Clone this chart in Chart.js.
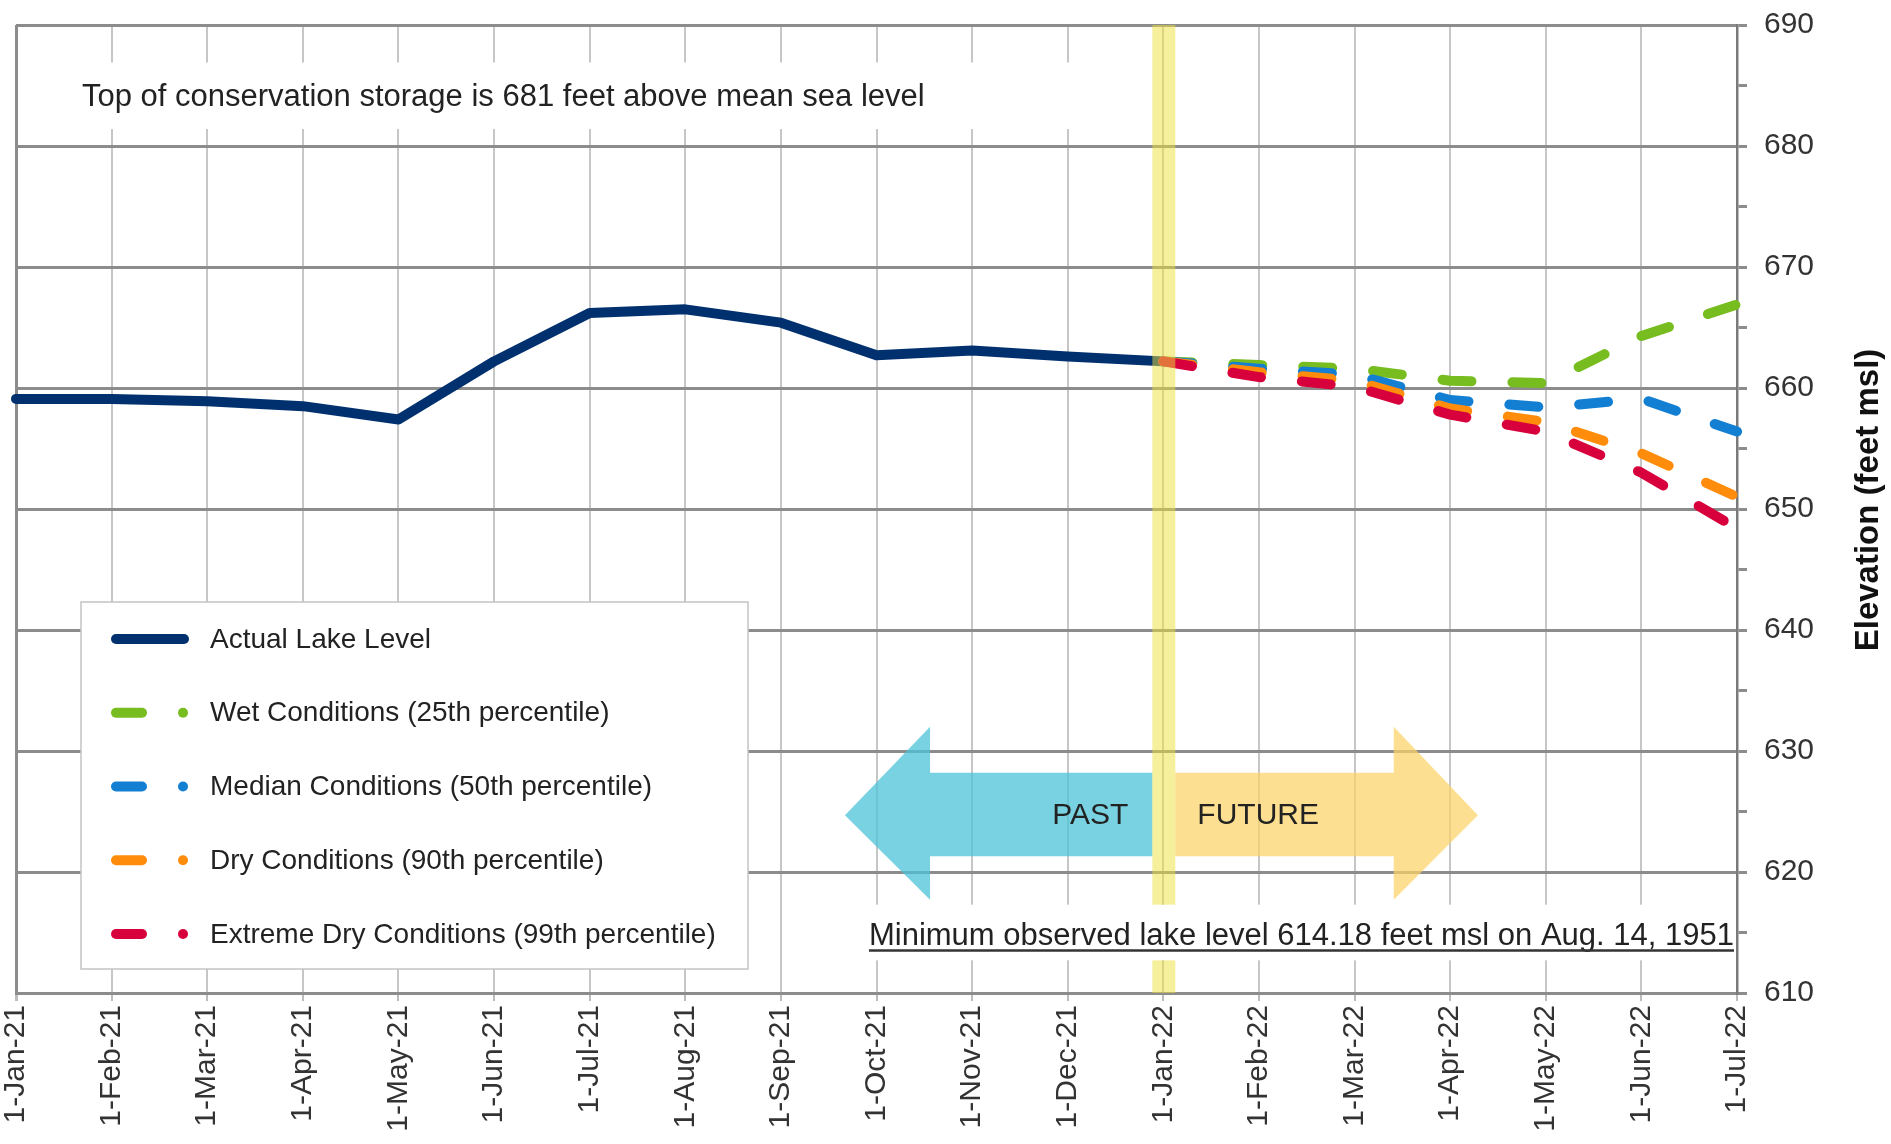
<!DOCTYPE html>
<html>
<head>
<meta charset="utf-8">
<script src="https://cdn.jsdelivr.net/npm/chart.js@4.4.1/dist/chart.umd.min.js"></script>
<style>
  html, body { margin: 0; padding: 0; background: #fff; overflow: hidden; }
  canvas { display: block; }
</style>
</head>
<body>
<canvas id="chartLago" width="1891" height="1144" style="width:1891px;height:1144px"></canvas>
<script>
"use strict";

// Meses del eje X (equiespaciados)
const months = [
  "1-Jan-21", "1-Feb-21", "1-Mar-21", "1-Apr-21", "1-May-21", "1-Jun-21",
  "1-Jul-21", "1-Aug-21", "1-Sep-21", "1-Oct-21", "1-Nov-21", "1-Dec-21",
  "1-Jan-22", "1-Feb-22", "1-Mar-22", "1-Apr-22", "1-May-22", "1-Jun-22", "1-Jul-22",
];

// Nivel observado (feet msl)
const actualLevel = [659.1, 659.1, 658.9, 658.5, 657.4, 662.2, 666.2, 666.5, 665.4,
  662.7, 663.1, 662.6, 662.2, null, null, null, null, null, null];

// Pronósticos desde 1-Jan-22
const wetLevel = [null, null, null, null, null, null, null, null, null, null, null, null,
  662.2, 661.9, 661.6, 660.6, 660.4, 664.3, 666.9];
const medianLevel = [null, null, null, null, null, null, null, null, null, null, null, null,
  662.2, 661.6, 661.1, 659.0, 658.4, 659.1, 656.4];
const dryLevel = [null, null, null, null, null, null, null, null, null, null, null, null,
  662.2, 661.3, 660.6, 658.3, 657.2, 654.6, 651.0];
const extremeLevel = [null, null, null, null, null, null, null, null, null, null, null, null,
  662.2, 660.9, 660.1, 657.8, 656.4, 653.0, 648.4];

const seriesNames = [
  "Actual Lake Level",
  "Wet Conditions (25th percentile)",
  "Median Conditions (50th percentile)",
  "Dry Conditions (90th percentile)",
  "Extreme Dry Conditions (99th percentile)",
];
const seriesColors = ["#00306e", "#77bd1f", "#137fd3", "#ff8c0a", "#d8003c"];

const elevationTicks = [610, 620, 630, 640, 650, 660, 670, 680, 690];

const FONT = "'Liberation Sans', Arial, sans-serif";
const TEXT = "#222";

const overlay = {
  id: "overlay",
  beforeDatasetsDraw(chart) {
    const { ctx, chartArea: a, scales: { x, y } } = chart;
    const bandL = x.getPixelForValue(12) - 11;
    const bandR = x.getPixelForValue(12) + 12;
    const yc = y.getPixelForValue(624.7);
    const sT = y.getPixelForValue(628.2), sB = y.getPixelForValue(621.3);
    const hT = y.getPixelForValue(632.0), hB = y.getPixelForValue(617.7);
    ctx.save();

    // flecha PAST
    const pTip = x.getPixelForValue(8.67), pBase = x.getPixelForValue(9.56);
    ctx.fillStyle = "rgba(75,195,215,0.75)";
    ctx.beginPath();
    ctx.moveTo(pTip, yc);
    ctx.lineTo(pBase, hT);
    ctx.lineTo(pBase, sT);
    ctx.lineTo(bandL, sT);
    ctx.lineTo(bandL, sB);
    ctx.lineTo(pBase, sB);
    ctx.lineTo(pBase, hB);
    ctx.closePath();
    ctx.fill();

    // flecha FUTURE
    const fTip = x.getPixelForValue(15.29), fBase = x.getPixelForValue(14.41);
    ctx.fillStyle = "rgba(252,210,102,0.72)";
    ctx.beginPath();
    ctx.moveTo(fTip, yc);
    ctx.lineTo(fBase, hT);
    ctx.lineTo(fBase, sT);
    ctx.lineTo(bandR, sT);
    ctx.lineTo(bandR, sB);
    ctx.lineTo(fBase, sB);
    ctx.lineTo(fBase, hB);
    ctx.closePath();
    ctx.fill();

    ctx.fillStyle = TEXT;
    ctx.font = "30px " + FONT;
    ctx.textBaseline = "middle";
    ctx.textAlign = "right";
    ctx.fillText("PAST", bandL - 24, yc + 1);
    ctx.textAlign = "left";
    ctx.fillText("FUTURE", bandR + 22, yc + 1);

    // cajas blancas de las notas
    ctx.fillStyle = "#fff";
    const t1 = y.getPixelForValue(686.9), t2 = y.getPixelForValue(681.4);
    ctx.fillRect(a.left + 2, t1, x.getPixelForValue(11.45) - a.left - 2, t2 - t1);
    const b1 = y.getPixelForValue(617.3), b2 = y.getPixelForValue(612.7);
    ctx.fillRect(x.getPixelForValue(8.9), b1, a.right - 2 - x.getPixelForValue(8.9), b2 - b1);
    ctx.restore();
  },
  afterDatasetsDraw(chart) {
    const { ctx, chartArea: a, scales: { x, y } } = chart;
    ctx.save();

    // banda amarilla en 1-Jan-22
    const bandL = x.getPixelForValue(12) - 11;
    const b1 = y.getPixelForValue(617.3), b2 = y.getPixelForValue(612.7);
    ctx.fillStyle = "rgba(238,225,60,0.5)";
    ctx.fillRect(bandL, a.top, 23, b1 - a.top);
    ctx.fillRect(bandL, b2, 23, a.bottom - b2);

    // notas
    ctx.fillStyle = TEXT;
    ctx.font = "31px " + FONT;
    ctx.textAlign = "left";
    ctx.textBaseline = "middle";
    ctx.fillText("Top of conservation storage is 681 feet above mean sea level", a.left + 66, y.getPixelForValue(684.0));

    ctx.textAlign = "right";
    ctx.textBaseline = "alphabetic";
    const minTxt = "Minimum observed lake level 614.18 feet msl on Aug. 14, 1951";
    const baseY = y.getPixelForValue(614.0);
    const right = a.right - 3;
    ctx.fillText(minTxt, right, baseY);
    const w = ctx.measureText(minTxt).width;
    ctx.strokeStyle = "#333";
    ctx.lineWidth = 2.5;
    ctx.beginPath();
    ctx.moveTo(right - w, baseY + 6);
    ctx.lineTo(right, baseY + 6);
    ctx.stroke();

    // leyenda
    const lx = a.left + 65, ly = a.top + 577, lw = 667, lh = 367;
    ctx.fillStyle = "#fff";
    ctx.fillRect(lx, ly, lw, lh);
    ctx.strokeStyle = "#c4c4c4";
    ctx.lineWidth = 1.5;
    ctx.strokeRect(lx, ly, lw, lh);
    ctx.lineCap = "round";
    ctx.font = "28px " + FONT;
    ctx.textAlign = "left";
    ctx.textBaseline = "middle";
    seriesNames.forEach((name, i) => {
      const ry = ly + 37 + i * 73.75;
      ctx.strokeStyle = seriesColors[i];
      ctx.fillStyle = seriesColors[i];
      ctx.lineWidth = 10;
      ctx.beginPath();
      if (i === 0) {
        ctx.moveTo(lx + 35, ry);
        ctx.lineTo(lx + 103, ry);
        ctx.stroke();
      } else {
        ctx.moveTo(lx + 35, ry);
        ctx.lineTo(lx + 61, ry);
        ctx.stroke();
        ctx.beginPath();
        ctx.arc(lx + 102, ry, 5, 0, Math.PI * 2);
        ctx.fill();
      }
      ctx.fillStyle = TEXT;
      ctx.fillText(name, lx + 129, ry + 1);
    });

    // título del eje Y (de abajo hacia arriba)
    ctx.save();
    ctx.translate(1869, 500);
    ctx.rotate(-Math.PI / 2);
    ctx.font = "bold 33px " + FONT;
    ctx.textAlign = "center";
    ctx.textBaseline = "middle";
    ctx.fillStyle = "#111";
    ctx.fillText("Elevation (feet msl)", 0, 0);
    ctx.restore();

    ctx.restore();
  },
};

function lineSet(label, data, color, dashed, order) {
  return {
    label,
    data,
    borderColor: color,
    backgroundColor: color,
    borderWidth: 10,
    borderDash: dashed ? [29, 41] : [],
    borderCapStyle: "round",
    borderJoinStyle: "round",
    pointRadius: 0,
    tension: 0,
    spanGaps: false,
    order,
  };
}

new Chart(document.getElementById("chartLago"), {
  type: "line",
  data: {
    labels: months,
    datasets: [
      lineSet(seriesNames[0], actualLevel, seriesColors[0], false, 5),
      lineSet(seriesNames[1], wetLevel, seriesColors[1], true, 4),
      lineSet(seriesNames[2], medianLevel, seriesColors[2], true, 3),
      lineSet(seriesNames[3], dryLevel, seriesColors[3], true, 2),
      lineSet(seriesNames[4], extremeLevel, seriesColors[4], true, 1),
    ],
  },
  options: {
    responsive: false,
    devicePixelRatio: 1,
    animation: false,
    layout: { padding: { left: 16, top: 25, right: 0, bottom: 0 } },
    plugins: { legend: { display: false }, tooltip: { enabled: false } },
    scales: {
      x: {
        type: "category",
        offset: false,
        grid: {
          color: (c) => (c.index === 0 ? "#8c8c8c" : "#c6c6c6"),
          lineWidth: (c) => (c.index === 0 ? 3 : 2),
          tickColor: "#bdbdbd",
          tickLength: 8,
        },
        border: { display: true, color: "#8c8c8c", width: 3 },
        ticks: {
          autoSkip: false,
          maxRotation: 90,
          minRotation: 90,
          padding: 4,
          color: "#333",
          font: { family: FONT, size: 30 },
        },
        afterFit(scale) {
          scale.height = 151;
          scale.paddingLeft = 0;
          scale.paddingRight = 0;
        },
      },
      y: {
        position: "right",
        min: 610,
        max: 690,
        grid: {
          color: (c) => (c.tick && c.tick.value % 10 === 0 ? "#8c8c8c" : "rgba(0,0,0,0)"),
          lineWidth: 3,
          tickColor: "#8c8c8c",
          tickLength: 10,
        },
        border: { display: true, color: "#7a7a7a", width: 2.5 },
        ticks: {
          stepSize: 5,
          autoSkip: false,
          padding: 17,
          color: "#333",
          font: { family: FONT, size: 30 },
          callback: (v) => (elevationTicks.includes(v) ? String(v) : ""),
        },
        afterFit(scale) {
          scale.width = 154;
          scale.paddingTop = 0;
          scale.paddingBottom = 0;
        },
      },
    },
  },
  plugins: [overlay],
});
</script>
</body>
</html>
